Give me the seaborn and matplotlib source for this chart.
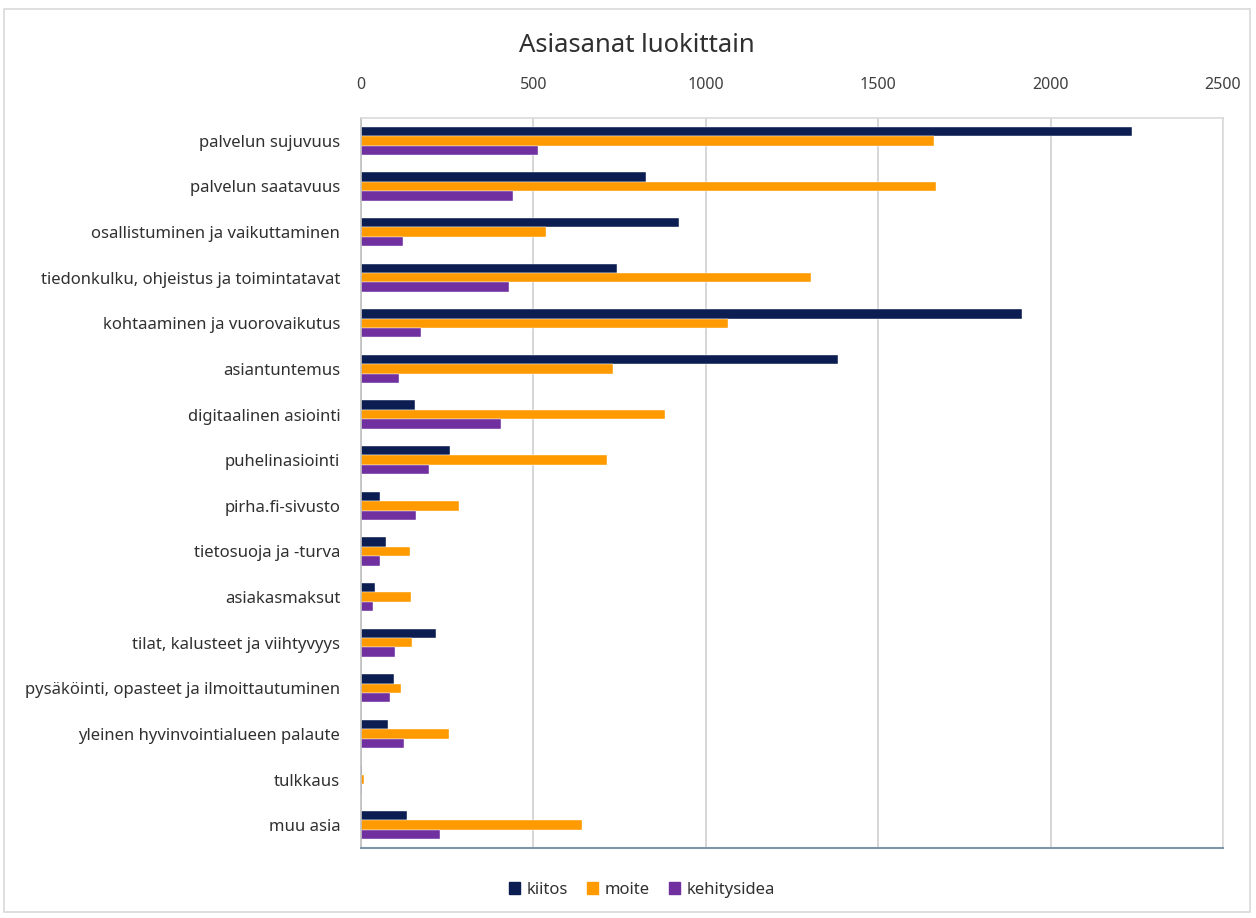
import matplotlib
matplotlib.use("Agg")
import matplotlib.pyplot as plt
import seaborn as sns
import pandas as pd
from matplotlib.patches import Rectangle, Patch

categories = [
    "palvelun sujuvuus", "palvelun saatavuus", "osallistuminen ja vaikuttaminen",
    "tiedonkulku, ohjeistus ja toimintatavat", "kohtaaminen ja vuorovaikutus",
    "asiantuntemus", "digitaalinen asiointi", "puhelinasiointi", "pirha.fi-sivusto",
    "tietosuoja ja -turva", "asiakasmaksut", "tilat, kalusteet ja viihtyvyys",
    "pysäköinti, opasteet ja ilmoittautuminen", "yleinen hyvinvointialueen palaute",
    "tulkkaus", "muu asia",
]
kiitos = [2236, 827, 923, 742, 1917, 1382, 157, 258, 55, 72, 40, 218, 96, 78, 3, 134]
moite = [1663, 1667, 537, 1305, 1064, 730, 883, 713, 285, 142, 145, 148, 116, 256, 9, 641]
kehitysidea = [513, 441, 122, 428, 174, 110, 407, 197, 160, 55, 35, 99, 85, 125, 2, 229]
series = ["kiitos", "moite", "kehitysidea"]
colors = ["#0B1D51", "#FF9A00", "#7030A0"]
xticks = [0, 500, 1000, 1500, 2000, 2500]

rows = []
for name, vals in zip(series, [kiitos, moite, kehitysidea]):
    for c, v in zip(categories, vals):
        rows.append({"luokka": c, "sarja": name, "arvo": v})
df = pd.DataFrame(rows)

sns.set_theme(style="white")
plt.rcParams["font.family"] = ["Noto Sans", "DejaVu Sans"]

fig = plt.figure(figsize=(12.56, 9.18), dpi=100)
ax = fig.add_axes([361 / 1256, 1 - 848 / 918, (1223 - 361) / 1256, (848 - 118) / 918])

sns.barplot(data=df, y="luokka", x="arvo", hue="sarja", order=categories,
            hue_order=series, palette=colors, orient="h", width=0.62,
            ax=ax, legend=False, saturation=1, edgecolor="#FFFFFF", linewidth=0.3)

ax.set_xlim(0, 2500)
ax.set_xticks(xticks)
ax.xaxis.tick_top()
ax.set_xlabel("")
ax.set_ylabel("")
ax.grid(axis="x", color="#D0D0D0", linewidth=1.2)
ax.set_axisbelow(True)
ax.tick_params(axis="x", length=0, pad=18, labelsize=11.5, labelcolor="#404040")
ax.tick_params(axis="y", length=0, pad=15, labelsize=12, labelcolor="#303030")
for side in ["top", "right"]:
    ax.spines[side].set_color("#DADADA")
    ax.spines[side].set_linewidth(1.2)
ax.spines["left"].set_color("#BFBFBF")
ax.spines["left"].set_linewidth(1.2)
ax.spines["bottom"].set_color("#7F95A8")
ax.spines["bottom"].set_linewidth(1.5)

fig.text(637 / 1256, 1 - 46 / 918, "Asiasanat luokittain", ha="center", va="center",
         fontsize=18.5, color="#303030")

handles = [Patch(facecolor=c, edgecolor=c) for c in colors]
fig.legend(handles, series, loc="center", bbox_to_anchor=(642 / 1256, 1 - 890 / 918),
           ncol=3, frameon=False, fontsize=12, handlelength=0.7, handleheight=0.7,
           handletextpad=0.4, columnspacing=1.1, labelcolor="#303030")

fig.patches.append(Rectangle((4 / 1256, 1 - 912 / 918), (1250 - 4) / 1256, (912 - 9) / 918,
                             transform=fig.transFigure, fill=False,
                             edgecolor="#D9D9D9", linewidth=1.2))

fig.savefig("out.png", dpi=100)
